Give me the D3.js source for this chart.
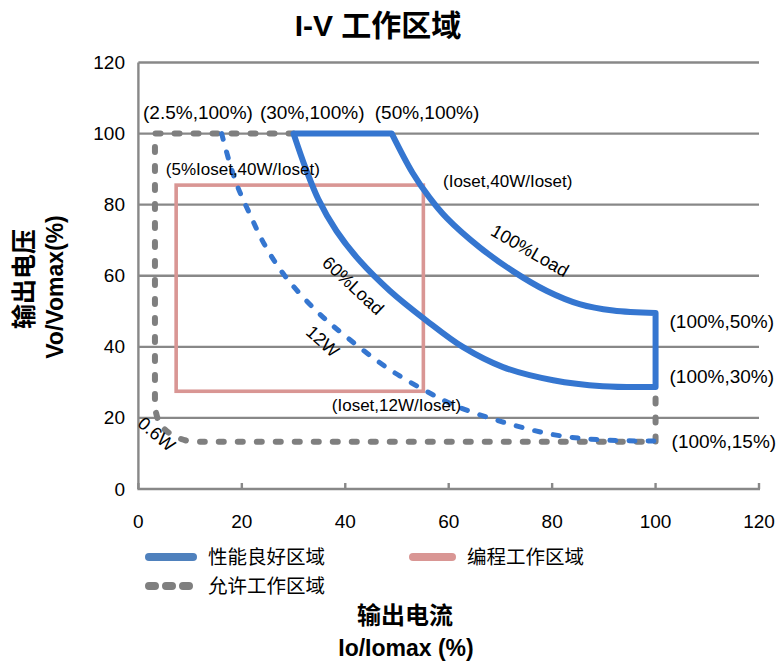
<!DOCTYPE html>
<html><head><meta charset="utf-8">
<script src="https://cdn.jsdelivr.net/npm/d3@7"></script>
<style>body{margin:0;background:#fff}svg{display:block}</style>
</head><body>
<script>
// ---- data ----
const xTicks = [0, 20, 40, 60, 80, 100, 120];
const yTicks = [0, 20, 40, 60, 80, 100, 120];
// 允许工作区域 (gray dashed outline)
const allowedStart = [[30, 100], [3.2, 100], [3.2, 23]];
const allowedCurve = [[3.2, 23], [3.8, 19.5], [4.8, 17.2], [6.1, 15.6], [8, 14.2], [10, 13.4], [12, 13.3]];
const allowedEnd = [[12, 13.3], [100, 13.3], [100, 29]];
// 性能良好区域 (blue solid)
const goodTop = [[30, 100], [49, 100]];
const goodOuter = [[49, 100], [53, 89], [56.3, 82], [59.6, 76.3], [66, 68], [72.4, 61.3], [79, 55.7], [85.3, 52], [91.8, 50.2], [100, 49.5]];
const goodRight = [[100, 49.5], [100, 28.7]];
const goodInner = [[100, 28.7], [89.8, 28.9], [80.2, 30.6], [70.5, 34.3], [62.8, 39.9], [55.7, 47.4], [48.6, 55.8], [42.8, 64.2], [38.3, 72.6], [34.8, 81.5], [32.4, 90], [30, 100]];
// 12W curve (blue dashed)
const curve12W = [[16.1, 100], [17.6, 92], [19.2, 85], [21.5, 77.5], [24.3, 69], [28.3, 60], [34.5, 50], [40.3, 42.7], [48.6, 33.6], [55.7, 27.5], [61, 23.6], [69.2, 19.4], [80.2, 15.3], [89.8, 13.8], [100, 13.5]];
// 编程工作区域 (pink rectangle)
const progX = [7.3, 55.1];
const progY = [27.5, 85.5];
// annotations: [text, x, y]
const pointLabels = [
  ["(2.5%,100%)", 0.9, 104.1],
  ["(30%,100%)", 23.5, 104.1],
  ["(50%,100%)", 45.7, 104.1],
  ["(5%Ioset,40W/Ioset)", 5.3, 88.4],
  ["(Ioset,40W/Ioset)", 58.9, 85.0],
  ["(Ioset,12W/Ioset)", 37.4, 21.9],
  ["(100%,50%)", 102.7, 45.2],
  ["(100%,30%)", 102.7, 29.7],
  ["(100%,15%)", 103.1, 11.5]
];
// curve labels: [text, x, y, angle]
const curveLabels = [
  ["100%Load", 75.7, 67.0, 30],
  ["60%Load", 41.5, 57.2, 43],
  ["12W", 35.6, 41.5, 42],
  ["0.6W", 3.5, 15.4, 40]
];
const legendItems = ["性能良好区域", "编程工作区域", "允许工作区域"];
const titleText = "I-V 工作区域";
const yTitle = ["输出电压", "Vo/Vomax(%)"];
const xTitle = ["输出电流", "Io/Iomax (%)"];

// ---- drawing ----
const W = 779, H = 666;
const FONT = "'Liberation Sans', Arial, 'Noto Sans CJK SC', sans-serif";
const BLUE = "#3576d0", PINK = "#d99694", GRAY = "#7f7f7f", GRID = "#888888";
const svg = d3.select("body").append("svg").attr("width", W).attr("height", H)
  .style("font-family", FONT);

const x = d3.scaleLinear().domain([0, 120]).range([138.4, 759]);
const y = d3.scaleLinear().domain([0, 120]).range([489, 62.5]);

// grid lines
svg.append("g").selectAll("line").data(yTicks.filter(d => d > 0)).join("line")
  .attr("x1", x(0)).attr("x2", x(120)).attr("y1", d => y(d)).attr("y2", d => y(d))
  .attr("stroke", GRID).attr("stroke-width", 2.4);
// left axis
svg.append("line").attr("x1", x(0)).attr("x2", x(0)).attr("y1", y(0)).attr("y2", y(120))
  .attr("stroke", GRID).attr("stroke-width", 2.4);
// bottom axis with inner ticks
svg.append("line").attr("x1", x(0) - 1).attr("x2", x(120) + 1).attr("y1", y(0)).attr("y2", y(0))
  .attr("stroke", GRID).attr("stroke-width", 2.4);
svg.append("g").selectAll("line").data(xTicks).join("line")
  .attr("x1", d => x(d)).attr("x2", d => x(d)).attr("y1", y(0)).attr("y2", y(0) - 6)
  .attr("stroke", GRID).attr("stroke-width", 2.4);

// tick labels
svg.append("g").selectAll("text").data(yTicks).join("text")
  .attr("x", 125).attr("y", d => y(d)).attr("text-anchor", "end").attr("dominant-baseline", "central")
  .attr("font-size", 19).text(d => d);
svg.append("g").selectAll("text").data(xTicks).join("text")
  .attr("x", d => x(d)).attr("y", 528).attr("text-anchor", "middle")
  .attr("font-size", 19).text(d => d);

const lin = d3.line().x(d => x(d[0])).y(d => y(d[1]));
const crv = d3.line().x(d => x(d[0])).y(d => y(d[1])).curve(d3.curveCatmullRom.alpha(0.5));
const join = (...parts) => parts.map((p, i) => i === 0 ? p : p.replace(/^M/, "L")).join("");

// allowed region (gray dashed)
svg.append("path")
  .attr("d", join(lin(allowedStart), crv(allowedCurve), lin(allowedEnd)))
  .attr("fill", "none").attr("stroke", GRAY).attr("stroke-width", 6)
  .attr("stroke-dasharray", "5 14").attr("stroke-linecap", "round").attr("stroke-linejoin", "round");

// programming region (pink)
svg.append("rect")
  .attr("x", x(progX[0])).attr("y", y(progY[1]))
  .attr("width", x(progX[1]) - x(progX[0])).attr("height", y(progY[0]) - y(progY[1]))
  .attr("fill", "none").attr("stroke", PINK).attr("stroke-width", 3.6);

// 12W curve (blue dashed)
svg.append("path").attr("d", crv(curve12W))
  .attr("fill", "none").attr("stroke", BLUE).attr("stroke-width", 5)
  .attr("stroke-dasharray", "6 13").attr("stroke-linecap", "round");

// good region (blue solid)
svg.append("path")
  .attr("d", join(lin(goodTop), crv(goodOuter), lin(goodRight), crv(goodInner)) + "Z")
  .attr("fill", "none").attr("stroke", BLUE).attr("stroke-width", 6).attr("stroke-linejoin", "round");

// point labels
svg.append("g").selectAll("text").data(pointLabels).join("text")
  .attr("x", d => x(d[1])).attr("y", d => y(d[2]))
  .attr("font-size", d => /Ioset/.test(d[0]) ? 17 : 19).text(d => d[0]);
// curve labels
svg.append("g").selectAll("text").data(curveLabels).join("text")
  .attr("transform", d => `translate(${x(d[1])},${y(d[2])}) rotate(${d[3]})`)
  .attr("text-anchor", "middle").attr("dominant-baseline", "central")
  .attr("font-size", 18).text(d => d[0]);

// title
svg.append("text").attr("x", 378).attr("y", 36).attr("text-anchor", "middle")
  .attr("font-size", 30).attr("font-weight", "bold").text(titleText);

// y title
svg.append("text").attr("transform", "translate(24,279) rotate(-90)")
  .attr("text-anchor", "middle").attr("dominant-baseline", "central")
  .attr("font-size", 25).attr("font-weight", "bold").text(yTitle[0]);
svg.append("text").attr("transform", "translate(55,287) rotate(-90)")
  .attr("text-anchor", "middle").attr("dominant-baseline", "central")
  .attr("font-size", 23).attr("font-weight", "bold").text(yTitle[1]);

// x title
svg.append("text").attr("x", 405).attr("y", 624).attr("text-anchor", "middle")
  .attr("font-size", 24).attr("font-weight", "bold").text(xTitle[0]);
svg.append("text").attr("x", 406).attr("y", 656).attr("text-anchor", "middle")
  .attr("font-size", 23).attr("font-weight", "bold").text(xTitle[1]);

// legend
const lg = svg.append("g");
lg.append("line").attr("x1", 149).attr("x2", 193).attr("y1", 557).attr("y2", 557)
  .attr("stroke", "#4f81bd").attr("stroke-width", 8).attr("stroke-linecap", "round");
lg.append("text").attr("x", 208).attr("y", 557).attr("dominant-baseline", "central")
  .attr("font-size", 19.5).text(legendItems[0]);
lg.append("line").attr("x1", 413).attr("x2", 452).attr("y1", 557).attr("y2", 557)
  .attr("stroke", PINK).attr("stroke-width", 8).attr("stroke-linecap", "round");
lg.append("text").attr("x", 467).attr("y", 557).attr("dominant-baseline", "central")
  .attr("font-size", 19.5).text(legendItems[1]);
lg.append("line").attr("x1", 149).attr("x2", 190).attr("y1", 586).attr("y2", 586)
  .attr("stroke", GRAY).attr("stroke-width", 8).attr("stroke-linecap", "round")
  .attr("stroke-dasharray", "6 11");
lg.append("text").attr("x", 208).attr("y", 586).attr("dominant-baseline", "central")
  .attr("font-size", 19.5).text(legendItems[2]);
</script>
</body></html>
